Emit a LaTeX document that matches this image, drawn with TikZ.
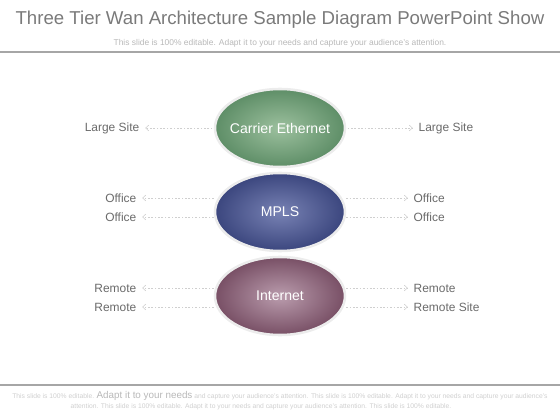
\documentclass[tikz,border=0pt]{standalone}
\usepackage{fontspec}
\setmainfont{Liberation Sans}
\usepackage{tikz}
\usetikzlibrary{shapes.geometric}
\usetikzlibrary{arrows.meta}
\definecolor{titlegray}{HTML}{7A7A7A}
\definecolor{textgray}{HTML}{6A6A6A}
\definecolor{palegray}{HTML}{B8B8B8}
\definecolor{rulegray}{HTML}{A6A6A6}
\definecolor{linkgray}{HTML}{CFCFCF}
\definecolor{greenin}{HTML}{9CC09E}
\definecolor{greenout}{HTML}{5E8E67}
\definecolor{bluein}{HTML}{7882B4}
\definecolor{blueout}{HTML}{3B467E}
\definecolor{purplein}{HTML}{BA9CAD}
\definecolor{purpleout}{HTML}{784F65}

\begin{document}
\begin{tikzpicture}[x=0.025cm,y=-0.025cm,
	tier/.style={ellipse,draw=gray!15,line width=1.8pt,minimum width=3.25cm,minimum height=1.95cm,
		inner sep=0pt,text=white,font=\fontsize{10}{12}\selectfont},
	site/.style={text=textgray,font=\fontsize{8.5}{10}\selectfont,inner sep=1pt},
	link/.style={draw=linkgray,line width=0.4pt,dash pattern=on 1.2pt off 1.2pt,
		-{Straight Barb[length=2.2pt,width=4pt]}}]
	\useasboundingbox (0,0) rectangle (560,420);

	%title and rules
	\node (title) at (280,20) {\fontsize{13.25}{15}\selectfont\color{titlegray}Three Tier Wan Architecture Sample Diagram PowerPoint Show};
	\node (sub) at (280,43) {\fontsize{6}{7}\selectfont\color{palegray}This slide is 100\% editable. Adapt it to your needs and capture your audience's attention.};
	\draw[rulegray,line width=1.4pt] (0,52)--(560,52);
	\draw[rulegray,line width=1.4pt] (0,385)--(560,385);

	%tiers
	\node[tier,shading=radial,inner color=greenin,outer color=greenout] (ce) at (280,128) {\makebox[2cm]{Carrier Ethernet}};
	\node[tier,shading=radial,inner color=bluein,outer color=blueout] (mpls) at (280,212) {\makebox[2cm]{MPLS}};
	\node[tier,shading=radial,inner color=purplein,outer color=purpleout] (inet) at (280,296) {\makebox[2cm]{Internet}};

	%left sites
	\node[site,anchor=east] (ls) at (141,128) {Large Site};
	\node[site,anchor=east] (ol1) at (138,198) {Office};
	\node[site,anchor=east] (ol2) at (138,217) {Office};
	\node[site,anchor=east] (rl1) at (138,288) {Remote};
	\node[site,anchor=east] (rl2) at (138,307) {Remote};

	%right sites
	\node[site,anchor=west] (rs) at (417,128) {Large Site};
	\node[site,anchor=west] (or1) at (412,198) {Office};
	\node[site,anchor=west] (or2) at (412,217) {Office};
	\node[site,anchor=west] (rr1) at (412,288) {Remote};
	\node[site,anchor=west] (rr2) at (412,307) {Remote Site};

	%links
	\draw[link,shorten <=1pt,shorten >=3pt] (ce.west) -- (ls.east);
	\draw[link,shorten <=1pt,shorten >=3pt] (ce.east) -- (rs.west);
	\draw[link,shorten >=3pt] (mpls.west |- ol1) -- (ol1.east);
	\draw[link,shorten >=3pt] (mpls.west |- ol2) -- (ol2.east);
	\draw[link,shorten >=3pt] (mpls.east |- or1) -- (or1.west);
	\draw[link,shorten >=3pt] (mpls.east |- or2) -- (or2.west);
	\draw[link,shorten >=3pt] (inet.west |- rl1) -- (rl1.east);
	\draw[link,shorten >=3pt] (inet.west |- rl2) -- (rl2.east);
	\draw[link,shorten >=3pt] (inet.east |- rr1) -- (rr1.west);
	\draw[link,shorten >=3pt] (inet.east |- rr2) -- (rr2.west);

	%footer
	\node (foot1) at (280,396) {\fontsize{4.8}{5}\selectfont\color{linkgray}This slide is 100\% editable. {\fontsize{7}{7}\selectfont\color{palegray}Adapt it to your needs} and capture your audience's attention. This slide is 100\% editable. Adapt it to your needs and capture your audience's};
	\node (foot2) at (261,407) {\fontsize{4.8}{5}\selectfont\color{linkgray}attention. This slide is 100\% editable. Adapt it to your needs and capture your audience's attention. This slide is 100\% editable.};
\end{tikzpicture}
\end{document}
